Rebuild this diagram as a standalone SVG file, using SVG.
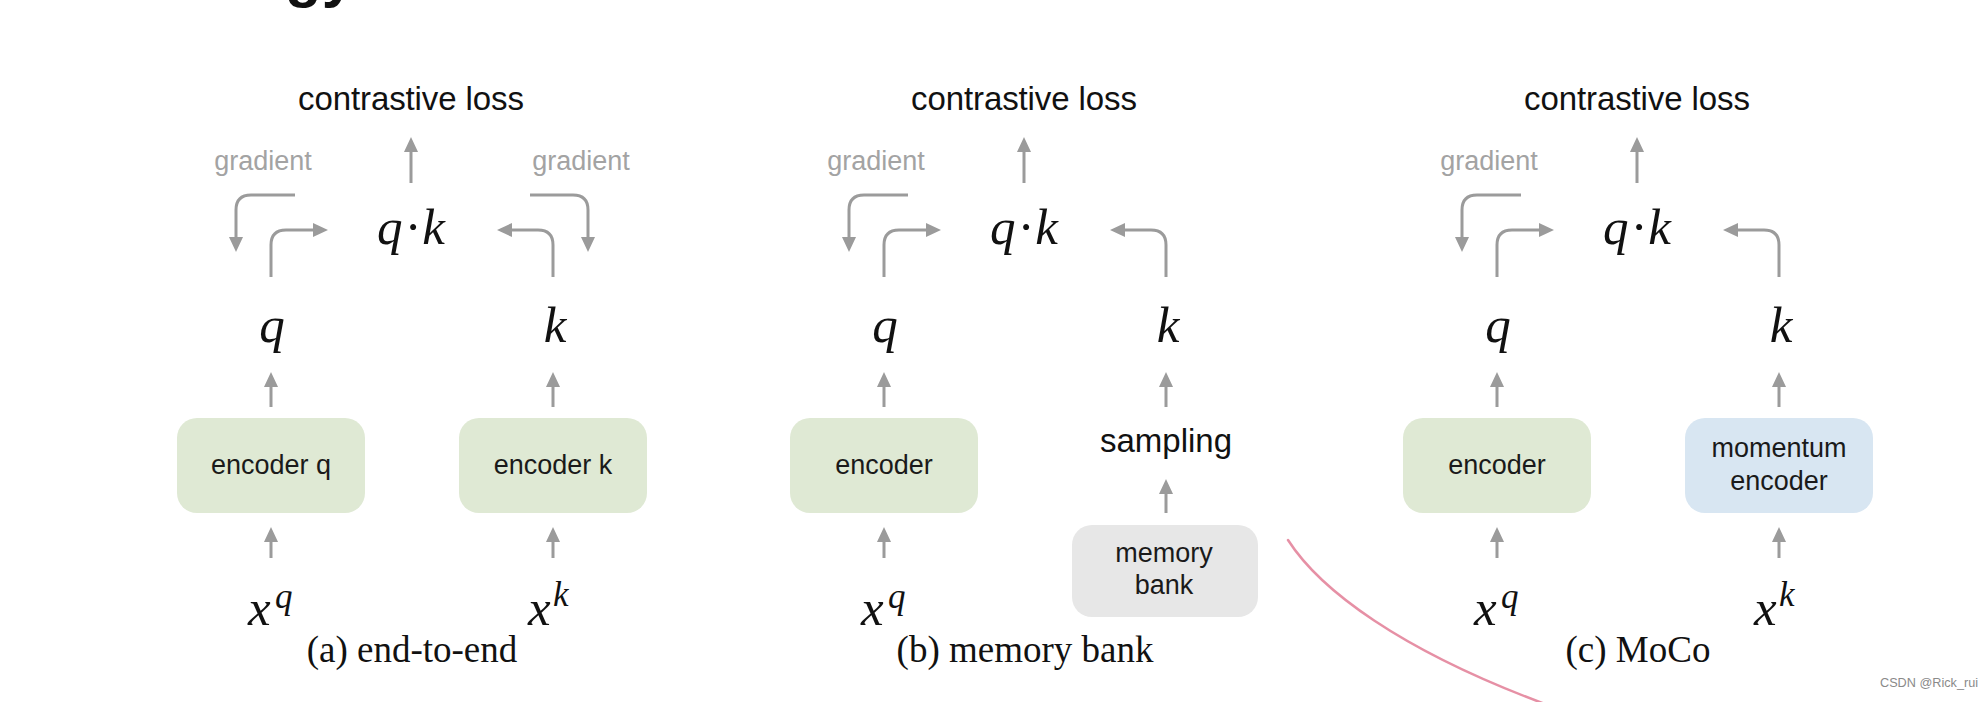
<svg xmlns="http://www.w3.org/2000/svg" width="1988" height="702" viewBox="0 0 1988 702">
  <defs>
    <marker id="head" viewBox="0 0 15 14" refX="0" refY="7" markerWidth="15" markerHeight="14" markerUnits="userSpaceOnUse" orient="auto">
      <path d="M0,0 L15,7 L0,14 z" fill="#9b9b9b"/>
    </marker>
    <style>
      .label { font-family: "Liberation Sans", Arial, sans-serif; font-size: 33px; fill: #111; text-anchor: middle; }
      .grad { font-family: "Liberation Sans", Arial, sans-serif; font-size: 27px; fill: #a3a3a3; text-anchor: middle; }
      .box-text { font-family: "Liberation Sans", Arial, sans-serif; font-size: 27px; fill: #1a1a1a; text-anchor: middle; }
      .math { font-family: "Liberation Serif", "Times New Roman", serif; font-style: italic; font-size: 51px; fill: #111; }
      .sup { font-family: "Liberation Serif", "Times New Roman", serif; font-style: italic; font-size: 35px; fill: #111; }
      .caption { font-family: "Liberation Serif", "Times New Roman", serif; font-size: 37px; fill: #111; text-anchor: middle; }
      .green { fill: #dfe9d4; }
      .blue { fill: #d8e6f2; }
      .grey { fill: #e7e7e7; }
      .conn { fill: none; stroke: #9b9b9b; stroke-width: 3; marker-end: url(#head); }
    </style>
  </defs>

  <rect width="1988" height="702" fill="#ffffff"/>

  <!-- bottom of a heading line running off the top edge -->
  <text x="285" y="-4" font-family="Liberation Sans, Arial, sans-serif" font-weight="bold" font-size="60" fill="#111">gy</text>

  <g id="connectors">
    <!-- panel (a) -->
    <g id="conn-a">
      <path class="conn" d="M411 183 V152"/>
      <path class="conn" d="M295 195 H251 Q236 195 236 210 V237"/>
      <path class="conn" d="M271 277 V245 Q271 230 286 230 H313"/>
      <path class="conn" d="M553 277 V245 Q553 230 538 230 H512"/>
      <path class="conn" d="M530 195 H573 Q588 195 588 210 V237"/>
      <path class="conn" d="M271 407 V387"/>
      <path class="conn" d="M553 407 V387"/>
      <path class="conn" d="M271 558 V542"/>
      <path class="conn" d="M553 558 V542"/>
    </g>
    <!-- panel (b) -->
    <g id="conn-b" transform="translate(613,0)">
      <path class="conn" d="M411 183 V152"/>
      <path class="conn" d="M295 195 H251 Q236 195 236 210 V237"/>
      <path class="conn" d="M271 277 V245 Q271 230 286 230 H313"/>
      <path class="conn" d="M553 277 V245 Q553 230 538 230 H512"/>
      <path class="conn" d="M271 407 V387"/>
      <path class="conn" d="M553 407 V387"/>
      <path class="conn" d="M271 558 V542"/>
      <path class="conn" d="M553 513 V494"/>
    </g>
    <!-- panel (c) -->
    <g id="conn-c" transform="translate(1226,0)">
      <path class="conn" d="M411 183 V152"/>
      <path class="conn" d="M295 195 H251 Q236 195 236 210 V237"/>
      <path class="conn" d="M271 277 V245 Q271 230 286 230 H313"/>
      <path class="conn" d="M553 277 V245 Q553 230 538 230 H512"/>
      <path class="conn" d="M271 407 V387"/>
      <path class="conn" d="M553 407 V387"/>
      <path class="conn" d="M271 558 V542"/>
      <path class="conn" d="M553 558 V542"/>
    </g>
  </g>

  <!-- (a) end-to-end -->
  <g id="panel-a">
    <g id="loss-a"><text class="label" x="411" y="110" textLength="226">contrastive loss</text></g>
    <g id="grad-a-left"><text class="grad" x="263" y="170">gradient</text></g>
    <g id="grad-a-right"><text class="grad" x="581" y="170">gradient</text></g>
    <g id="qk-a"><text class="math" x="377" y="244" textLength="68">q·k</text></g>
    <g id="q-a"><text class="math" x="272" y="342" text-anchor="middle">q</text></g>
    <g id="k-a"><text class="math" x="555" y="342" text-anchor="middle">k</text></g>
    <g id="enc-q-a">
      <rect class="green" x="177" y="418" width="188" height="95" rx="20"/>
      <text class="box-text" x="271" y="474">encoder q</text>
    </g>
    <g id="enc-k-a">
      <rect class="green" x="459" y="418" width="188" height="95" rx="20"/>
      <text class="box-text" x="553" y="474">encoder k</text>
    </g>
    <g id="xq-a"><text class="math" x="248" y="625">x</text><text class="sup" x="275" y="608">q</text></g>
    <g id="xk-a"><text class="math" x="528" y="625">x</text><text class="sup" x="553" y="606">k</text></g>
    <g id="caption-a"><text class="caption" x="412" y="662">(a) end-to-end</text></g>
  </g>

  <!-- (b) memory bank -->
  <g id="panel-b" transform="translate(613,0)">
    <g id="loss-b"><text class="label" x="411" y="110" textLength="226">contrastive loss</text></g>
    <g id="grad-b-left"><text class="grad" x="263" y="170">gradient</text></g>
    <g id="qk-b"><text class="math" x="377" y="244" textLength="68">q·k</text></g>
    <g id="q-b"><text class="math" x="272" y="342" text-anchor="middle">q</text></g>
    <g id="k-b"><text class="math" x="555" y="342" text-anchor="middle">k</text></g>
    <g id="enc-b">
      <rect class="green" x="177" y="418" width="188" height="95" rx="20"/>
      <text class="box-text" x="271" y="474">encoder</text>
    </g>
    <g id="sampling-b"><text class="label" x="553" y="452" font-size="32">sampling</text></g>
    <g id="bank-b">
      <rect class="grey" x="459" y="525" width="186" height="92" rx="20"/>
      <text class="box-text" x="551" y="562">memory</text>
      <text class="box-text" x="551" y="594">bank</text>
    </g>
    <g id="xq-b"><text class="math" x="248" y="625">x</text><text class="sup" x="275" y="608">q</text></g>
    <g id="caption-b"><text class="caption" x="412" y="662">(b) memory bank</text></g>
  </g>

  <!-- (c) MoCo -->
  <g id="panel-c" transform="translate(1226,0)">
    <g id="loss-c"><text class="label" x="411" y="110" textLength="226">contrastive loss</text></g>
    <g id="grad-c-left"><text class="grad" x="263" y="170">gradient</text></g>
    <g id="qk-c"><text class="math" x="377" y="244" textLength="68">q·k</text></g>
    <g id="q-c"><text class="math" x="272" y="342" text-anchor="middle">q</text></g>
    <g id="k-c"><text class="math" x="555" y="342" text-anchor="middle">k</text></g>
    <g id="enc-c">
      <rect class="green" x="177" y="418" width="188" height="95" rx="20"/>
      <text class="box-text" x="271" y="474">encoder</text>
    </g>
    <g id="momentum-enc-c">
      <rect class="blue" x="459" y="418" width="188" height="95" rx="20"/>
      <text class="box-text" x="553" y="457">momentum</text>
      <text class="box-text" x="553" y="490">encoder</text>
    </g>
    <g id="xq-c"><text class="math" x="248" y="625">x</text><text class="sup" x="275" y="608">q</text></g>
    <g id="xk-c"><text class="math" x="528" y="625">x</text><text class="sup" x="553" y="606">k</text></g>
    <g id="caption-c"><text class="caption" x="412" y="662">(c) MoCo</text></g>
  </g>

  <!-- pen stroke across the lower middle -->
  <path d="M1288 540 C1320 590 1400 650 1545 704" fill="none" stroke="#e27d95" stroke-width="2.5" stroke-linecap="round" opacity="0.85"/>

  <!-- watermark -->
  <text x="1880" y="687" font-family="Liberation Sans, Arial, sans-serif" font-size="13.5" fill="#8a8a8a" textLength="98" lengthAdjust="spacingAndGlyphs">CSDN @Rick_rui</text>
</svg>
